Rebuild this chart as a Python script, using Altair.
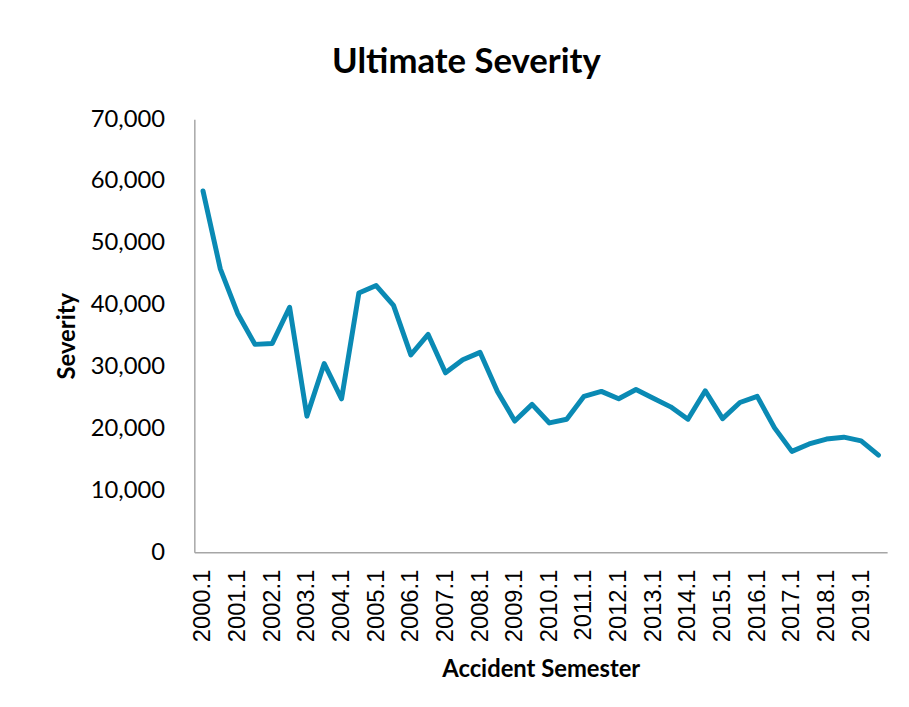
import altair as alt
import pandas as pd

semesters = [f"{y}.{s}" for y in range(2000, 2020) for s in (1, 2)]
severity = [
    58400, 45800, 38600, 33600, 33750, 39600, 22000, 30500, 24800, 41900,
    43100, 39900, 31900, 35200, 29000, 31100, 32300, 26000, 21200, 23900,
    20900, 21500, 25200, 26000, 24800, 26300, 24900, 23500, 21500, 26100,
    21600, 24200, 25200, 20100, 16300, 17500, 18300, 18600, 18000, 15700,
]
label_values = [s for s in semesters if s.endswith(".1")]

df = pd.DataFrame({"semester": semesters, "severity": severity})

FONT = "Lato"

chart = alt.Chart(df).mark_line(color="#0a8ab4", strokeWidth=5, strokeJoin="round", strokeCap="round").encode(
    x=alt.X("semester:N", sort=semesters,
            scale=alt.Scale(type="point", padding=0.5),
            axis=alt.Axis(values=label_values, labelAngle=-90, title="Accident Semester",
                          labelFontSize=24, titleFontSize=24, titleFontWeight="bold",
                          labelFont="Liberation Sans", titleFont=FONT,
                          labelColor="#000", titleColor="#000",
                          ticks=False, domainColor="#a6a6a6", domainWidth=1.5,
                          labelPadding=17, titlePadding=16, grid=False)),
    y=alt.Y("severity:Q", scale=alt.Scale(domain=[0, 70000], nice=False),
            axis=alt.Axis(values=list(range(0, 70001, 10000)), format=",.0f", title="Severity",
                          labelFontSize=24, titleFontSize=24, titleFontWeight="bold",
                          labelFont=FONT, titleFont=FONT, labelColor="#000", titleColor="#000",
                          ticks=False, domainColor="#a6a6a6", domainWidth=1.5,
                          labelPadding=30, titlePadding=11, grid=False)),
).properties(
    width=699, height=437,
    title=alt.TitleParams("Ultimate Severity", fontSize=35, fontWeight="bold", font=FONT,
                          color="#000", dx=-75, offset=28),
    autosize=alt.AutoSizeParams(type="none"),
    padding={"left": 188, "top": 109, "right": 14, "bottom": 153},
).configure_view(stroke=None)

chart.save("out.html", embed_options={"renderer": "svg", "actions": False})
